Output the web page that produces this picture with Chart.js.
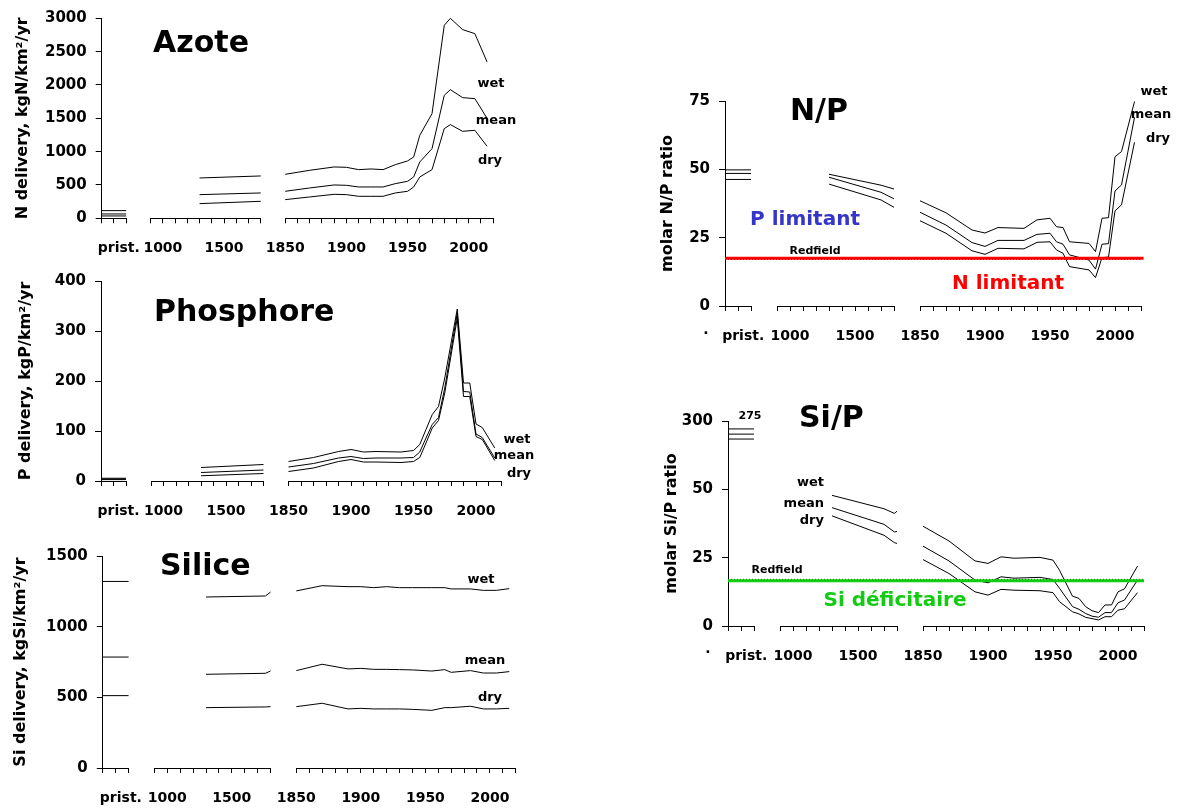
<!doctype html>
<html lang="fr">
<head>
<meta charset="utf-8">
<title>Azote, Phosphore, Silice - N/P, Si/P</title>
<style>
  * { margin: 0; padding: 0; }
  body { width: 1178px; height: 808px; background: #fff; position: relative; overflow: hidden; }
  canvas { position: absolute; left: 0; top: 0; }
</style>
</head>
<body>
<canvas id="cN" width="1178" height="808"></canvas>
<canvas id="cP" width="1178" height="808"></canvas>
<canvas id="cSi" width="1178" height="808"></canvas>
<canvas id="cNP" width="1178" height="808"></canvas>
<canvas id="cSiP" width="1178" height="808"></canvas>
<script src="https://cdn.jsdelivr.net/npm/chart.js"></script>
<script>
// ---- data ----
const xTickLabels = ['prist.', 1000, 1500, 1850, 1900, 1950, 2000];

// Azote, kgN/km2/yr  (pristine values: wet, mean, dry)
const nPrist = [115, 65, 35];
const nPreYears = [1300, 1800];
const nPreWet = [605, 635];
const nPreMean = [355, 380];
const nPreDry = [220, 255];
const nYears = [1850, 1870, 1890, 1900, 1910, 1920, 1930, 1940, 1950, 1955, 1960, 1970, 1980, 1985, 1995, 2005, 2015];
const nWet  = [660, 720, 770, 765, 730, 740, 730, 805, 860, 920, 1245, 1570, 2895, 3000, 2830, 2770, 2345];
const nMean = [405, 455, 500, 495, 470, 470, 470, 520, 555, 620, 845, 1045, 1845, 1930, 1810, 1795, 1500];
const nDry  = [280, 320, 360, 355, 330, 330, 330, 380, 405, 470, 620, 730, 1345, 1405, 1305, 1320, 1080];

// Phosphore, kgP/km2/yr
const pPrist = [5.5, 4, 2.8];
const pPreYears = [1300, 1800];
const pPreWet = [27, 33];
const pPreMean = [17, 22];
const pPreDry = [10.5, 15];
const pYears = [1850, 1870, 1890, 1900, 1910, 1920, 1940, 1950, 1955, 1960, 1965, 1970, 1975, 1985, 1990, 1995, 2000, 2005, 2015];
const pWet  = [39, 47, 59, 63, 58, 59, 58, 61, 73, 103, 133, 149, 206, 344, 196, 196, 114, 107, 66];
const pMean = [28, 35, 46, 49, 45, 46, 46, 47, 58, 86, 113, 127, 186, 336, 179, 178, 94, 87, 46];
const pDry  = [19, 26, 39, 43, 38, 38, 37, 39, 47, 76, 106, 121, 176, 326, 169, 169, 89, 83, 41];

// Silice, kgSi/km2/yr
const siPrist = [1320, 785, 512];
const siPreYears = [1300, 1760, 1800];
const siPreWet = [1210, 1217, 1245];
const siPreMean = [663, 670, 686];
const siPreDry = [427, 432, 434];
const siYears = [1850, 1870, 1890, 1900, 1910, 1920, 1930, 1940, 1955, 1965, 1970, 1985, 1995, 2005, 2015];
const siWet  = [1253, 1290, 1283, 1283, 1276, 1283, 1276, 1276, 1276, 1276, 1267, 1267, 1257, 1257, 1269];
const siMean = [689, 734, 701, 705, 698, 698, 696, 694, 686, 696, 677, 689, 672, 672, 682];
const siDry  = [434, 458, 418, 422, 418, 418, 418, 415, 408, 427, 427, 437, 418, 418, 422];

// molar N/P
const npPrist = [49.8, 48.5, 46.3];
const npPreYears = [1300, 1700, 1800];
const npPreWet = [48.2, 44.2, 42.8];
const npPreMean = [47.1, 41.6, 39.2];
const npPreDry = [44.6, 38.8, 36.1];
const npYears = [1850, 1870, 1890, 1900, 1910, 1930, 1940, 1950, 1955, 1960, 1965, 1980, 1985, 1990, 1995, 2000, 2005, 2015];
const npWet  = [38.5, 34.1, 27.8, 26.7, 28.7, 28.4, 31.5, 32.1, 29.0, 28.7, 23.5, 22.9, 19.9, 32.1, 32.3, 54.6, 56.5, 74.8];
const npMean = [34.3, 29.6, 23.2, 21.8, 24.0, 24.0, 26.2, 26.6, 23.5, 22.6, 18.7, 16.8, 13.5, 22.6, 22.8, 42.1, 44.3, 69.0];
const npDry  = [31.2, 26.6, 20.2, 18.9, 21.1, 20.9, 23.3, 23.5, 20.5, 19.3, 14.4, 13.2, 10.4, 17.7, 17.9, 34.8, 37.0, 59.9];
const redfieldNP = 17.5;

// molar Si/P
const spPrist = [271, 252, 234];
const spPreYears = [1300, 1700, 1780, 1800];
const spPreWet = [47.8, 42.9, 41.2, 42.0];
const spPreMean = [43.3, 37.2, 34.4, 34.6];
const spPreDry = [40.3, 33.2, 30.5, 30.2];
const spYears = [1850, 1870, 1890, 1900, 1910, 1920, 1940, 1950, 1955, 1965, 1970, 1975, 1980, 1985, 1990, 1995, 2000, 2005, 2015];
const spWet  = [36.5, 31.1, 23.8, 22.9, 25.3, 24.8, 25.1, 24.1, 20.4, 10.9, 10.1, 7.1, 5.6, 4.9, 7.7, 7.7, 12.5, 13.6, 21.9];
const spMean = [29.2, 23.8, 16.8, 15.8, 18.0, 17.5, 17.8, 17.0, 13.8, 7.1, 6.1, 4.6, 3.6, 3.2, 4.9, 4.9, 8.5, 9.5, 16.8];
const spDry  = [24.3, 19.2, 12.5, 11.3, 13.4, 13.1, 12.9, 12.2, 8.9, 5.2, 4.4, 3.2, 2.7, 2.2, 3.4, 3.4, 5.8, 6.3, 12.2];
const redfieldSiP = 16.6;

// ---- broken time axis: pristine block, 900-1800 (per century), 1850-2020 (per year) ----
const PRIST = [0, 20];
const PRE0 = 40, MOD0 = 150, XMAX = 320;
const PRIST_LABEL = 14;   // label sits a bit right of the block centre
function pos(year) {
  if (year === 'prist.') return PRIST_LABEL;
  return year < 1850 ? PRE0 + (year - 900) / 10 : MOD0 + (year - 1850);
}
const segments = [PRIST, [pos(900), pos(1800)], [pos(1850), pos(2020)]];
const xTicks = [0, 10, 20, PRIST_LABEL];
for (let y = 900; y <= 1800; y += 100) xTicks.push(pos(y));
for (let y = 1850; y <= 2020; y += 10) xTicks.push(pos(y));
xTicks.sort((a, b) => a - b);
function labelAt(v) {
  const lab = xTickLabels.find(l => Math.abs(pos(l) - v) < 0.01);
  return lab === undefined ? '' : String(lab);
}
// upper part of the Si/P axis is compressed: 50..300 drawn over 50..75
const brk = v => v <= 50 ? v : 50 + (v - 50) / 10;

function series(prist, preYears, preVals, years, vals, tf) {
  tf = tf || (v => v);
  const pts = [{x: PRIST[0], y: tf(prist)}, {x: PRIST[1], y: tf(prist)}, {x: 30, y: null}];
  preYears.forEach((yr, i) => pts.push({x: pos(yr), y: preVals[i]}));
  pts.push({x: 140, y: null});
  years.forEach((yr, i) => pts.push({x: pos(yr), y: vals[i]}));
  return {data: pts, borderColor: '#000', borderWidth: 1, pointRadius: 0, tension: 0,
          fill: false, spanGaps: false, clip: false};
}
function flat(v, x1, color, width, dash) {
  return {data: [{x: 0, y: v}, {x: x1, y: v}], borderColor: color, borderWidth: width,
          borderDash: dash || [], pointRadius: 0, fill: false, clip: false};
}

// ---- texts drawn over each panel (page coordinates) ----
const notes = {
  cN: [
    {t: 'Azote', x: 153, y: 52, size: 30, align: 'left', base: 'alphabetic'},
    {t: 'wet', x: 491, y: 84, size: 13}, {t: 'mean', x: 496, y: 121, size: 13}, {t: 'dry', x: 490, y: 161, size: 13}
  ],
  cP: [
    {t: 'Phosphore', x: 154, y: 321, size: 30, align: 'left', base: 'alphabetic'},
    {t: 'wet', x: 517, y: 440, size: 13}, {t: 'mean', x: 514, y: 456, size: 13}, {t: 'dry', x: 519, y: 474, size: 13}
  ],
  cSi: [
    {t: 'Silice', x: 160, y: 575, size: 30, align: 'left', base: 'alphabetic'},
    {t: 'wet', x: 481, y: 580, size: 13}, {t: 'mean', x: 485, y: 661, size: 13}, {t: 'dry', x: 490, y: 698, size: 13}
  ],
  cNP: [
    {t: 'N/P', x: 790, y: 120, size: 30, align: 'left', base: 'alphabetic'},
    {t: 'wet', x: 1154, y: 92, size: 13}, {t: 'mean', x: 1151, y: 115, size: 13}, {t: 'dry', x: 1158, y: 139, size: 13},
    {t: 'P limitant', x: 805, y: 220, size: 20, color: '#3535c8'},
    {t: 'Redfield', x: 815, y: 251, size: 11},
    {t: 'N limitant', x: 1008, y: 284, size: 20, color: '#ff0000'},
    {t: '·', x: 706, y: 334, size: 14}
  ],
  cSiP: [
    {t: 'Si/P', x: 799, y: 427, size: 30, align: 'left', base: 'alphabetic'},
    {t: '275', x: 750, y: 416, size: 11},
    {t: 'wet', x: 824, y: 483, size: 13, align: 'right'}, {t: 'mean', x: 824, y: 504, size: 13, align: 'right'},
    {t: 'dry', x: 824, y: 521, size: 13, align: 'right'},
    {t: 'Redfield', x: 777, y: 570, size: 11},
    {t: 'Si déficitaire', x: 895, y: 601, size: 20, color: '#11cc11'},
    {t: '·', x: 708, y: 653, size: 14}
  ]
};

const notesPlugin = {
  id: 'notes',
  afterDraw(chart) {
    const ctx = chart.ctx;
    ctx.save();
    (notes[chart.canvas.id] || []).forEach(n => {
      ctx.font = 'bold ' + n.size + "px 'DejaVu Sans', sans-serif";
      ctx.fillStyle = n.color || '#000';
      ctx.textAlign = n.align || 'center';
      ctx.textBaseline = n.base || 'middle';
      ctx.fillText(n.t, n.x, n.y);
    });
    ctx.restore();
  }
};

// x axis line drawn only under the three blocks
const segAxis = {
  id: 'segAxis',
  afterDraw(chart) {
    const ctx = chart.ctx, xs = chart.scales.x, yb = Math.round(chart.chartArea.bottom) + 0.5;
    ctx.save();
    ctx.strokeStyle = '#000';
    ctx.lineWidth = 1;
    segments.forEach(s => {
      ctx.beginPath();
      ctx.moveTo(xs.getPixelForValue(s[0]), yb);
      ctx.lineTo(xs.getPixelForValue(s[1]), yb);
      ctx.stroke();
    });
    ctx.restore();
  }
};

Chart.defaults.font.family = "'DejaVu Sans', sans-serif";
Chart.defaults.font.weight = 'bold';
Chart.defaults.color = '#000';

const XH = 40;
function makeChart(id, p) {
  return new Chart(document.getElementById(id), {
    type: 'line',
    data: {datasets: p.datasets},
    options: {
      responsive: false,
      animation: false,
      events: [],
      layout: {padding: {left: p.padL, top: p.top, right: 1178 - p.right, bottom: 808 - p.bottom - XH}},
      plugins: {legend: {display: false}, tooltip: {enabled: false}},
      scales: {
        x: {
          type: 'linear', min: 0, max: XMAX,
          afterBuildTicks: s => { s.ticks = xTicks.map(v => ({value: v})); },
          afterFit: s => { s.height = XH; },
          border: {display: false},
          grid: {drawOnChartArea: false, drawTicks: true, tickLength: 5,
                 color: c => (c.tick && c.tick.value === PRIST_LABEL) ? 'rgba(0,0,0,0)' : '#000'},
          ticks: {autoSkip: false, maxRotation: 0, padding: 17, color: '#000',
                  font: {size: 14, weight: 'bold'}, callback: v => labelAt(v)}
        },
        y: {
          min: 0, max: p.ymax,
          afterFit: s => { s.width = p.left - p.padL; },
          border: {display: true, color: '#000', width: 1},
          grid: {drawOnChartArea: false, drawTicks: true, tickLength: 6, color: '#000'},
          ticks: {stepSize: p.step, padding: 9, color: '#000', font: {size: 15, weight: 'bold'},
                  callback: p.ytick || (v => v)},
          title: {display: true, text: p.ytitle, color: '#000', font: {size: 16, weight: 'bold'},
                  padding: {top: p.tpad, bottom: 0}}
        }
      }
    },
    plugins: [segAxis, notesPlugin]
  });
}

makeChart('cN', {
  padL: 0, left: 101.7, right: 493.2, top: 18.3, bottom: 218.3, ymax: 3000, step: 500, tpad: 13,
  ytitle: 'N delivery, kgN/km²/yr',
  datasets: [
    series(nPrist[0], nPreYears, nPreWet, nYears, nWet),
    series(nPrist[1], nPreYears, nPreMean, nYears, nMean),
    series(nPrist[2], nPreYears, nPreDry, nYears, nDry)
  ]
});

makeChart('cP', {
  padL: 0, left: 101, right: 501, top: 281, bottom: 481, ymax: 400, step: 100, tpad: 16,
  ytitle: 'P delivery, kgP/km²/yr',
  datasets: [
    series(pPrist[0], pPreYears, pPreWet, pYears, pWet),
    series(pPrist[1], pPreYears, pPreMean, pYears, pMean),
    series(pPrist[2], pPreYears, pPreDry, pYears, pDry)
  ]
});

makeChart('cSi', {
  padL: 0, left: 102.8, right: 515.7, top: 556, bottom: 768, ymax: 1500, step: 500, tpad: 11.5,
  ytitle: 'Si delivery, kgSi/km²/yr',
  datasets: [
    series(siPrist[0], siPreYears, siPreWet, siYears, siWet),
    series(siPrist[1], siPreYears, siPreMean, siYears, siMean),
    series(siPrist[2], siPreYears, siPreDry, siYears, siDry)
  ]
});

makeChart('cNP', {
  padL: 640, left: 725, right: 1141, top: 101, bottom: 306, ymax: 75, step: 25, tpad: 18.7,
  ytitle: 'molar N/P ratio',
  datasets: [
    flat(redfieldNP, 322, '#ff0000', 3),
    flat(redfieldNP - 0.45, 320, '#000', 1, [1, 2]),
    series(npPrist[0], npPreYears, npPreWet, npYears, npWet),
    series(npPrist[1], npPreYears, npPreMean, npYears, npMean),
    series(npPrist[2], npPreYears, npPreDry, npYears, npDry)
  ]
});

makeChart('cSiP', {
  padL: 640, left: 728, right: 1144, top: 421, bottom: 626, ymax: 75, step: 25, tpad: 22,
  ytitle: 'molar Si/P ratio',
  ytick: v => v === 75 ? '300' : v,
  datasets: [
    flat(redfieldSiP, 320, '#11cc11', 3),
    flat(redfieldSiP + 0.45, 320, '#000', 1, [1, 2]),
    series(spPrist[0], spPreYears, spPreWet, spYears, spWet, brk),
    series(spPrist[1], spPreYears, spPreMean, spYears, spMean, brk),
    series(spPrist[2], spPreYears, spPreDry, spYears, spDry, brk)
  ]
});
</script>
</body>
</html>
